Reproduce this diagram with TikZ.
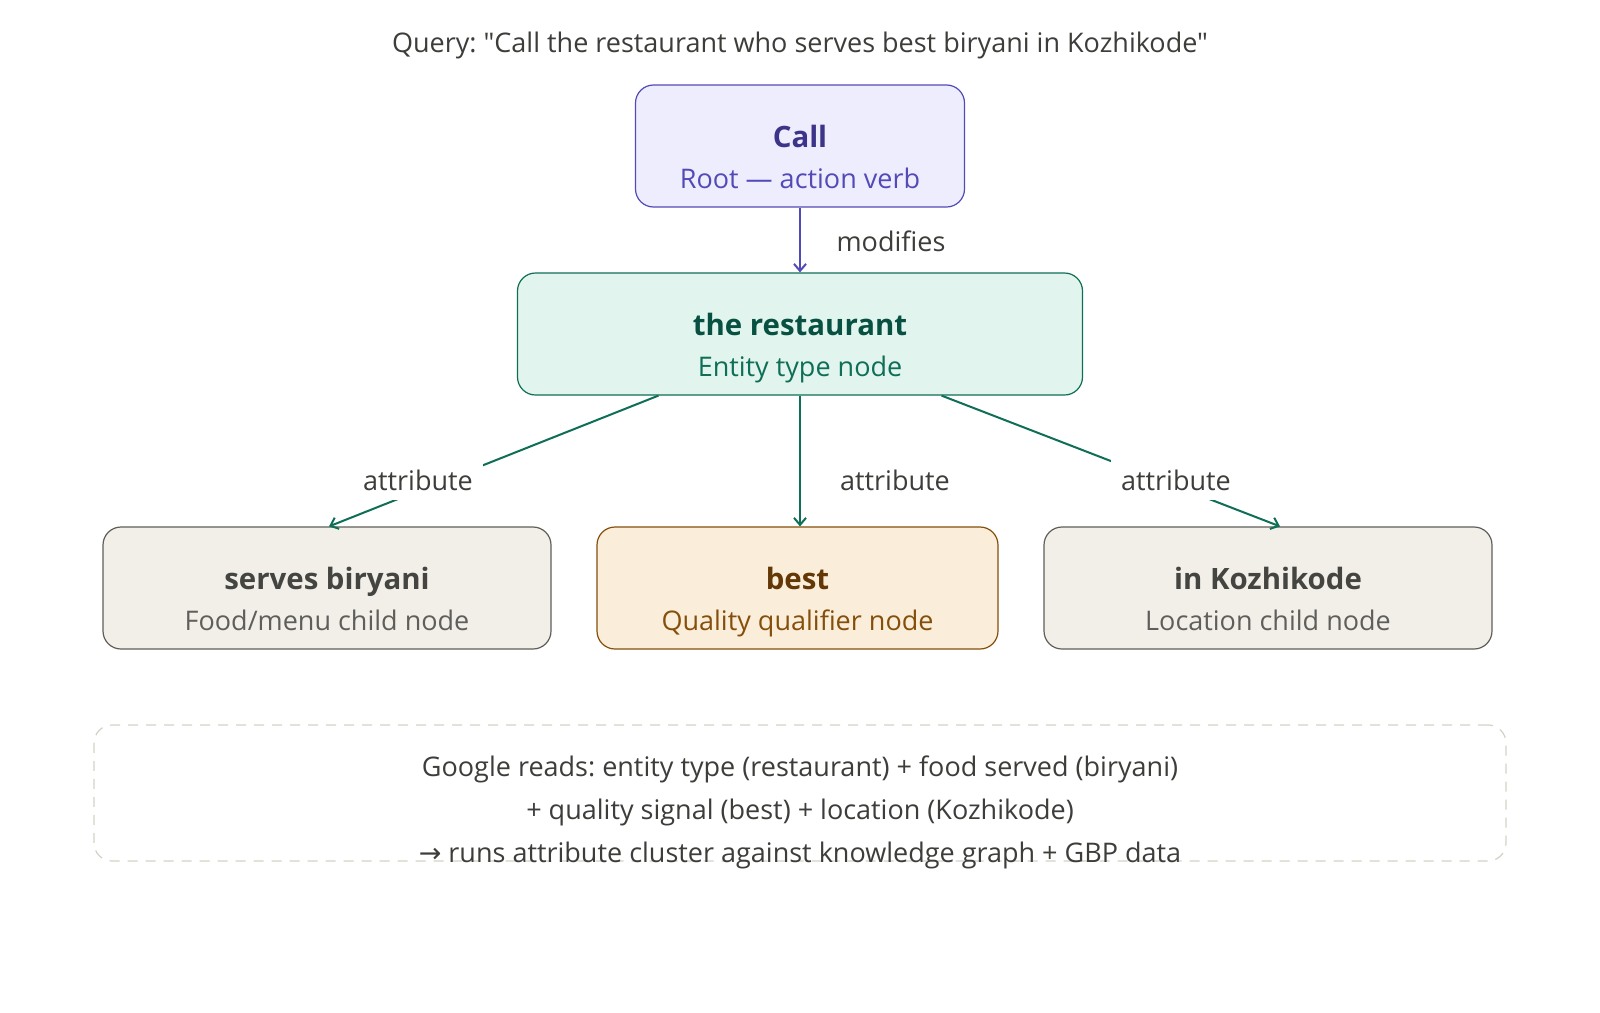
\documentclass[tikz,border=0pt]{standalone}
\usepackage{fontspec}
\setmainfont{Open Sans}[Ligatures=TeXOff]
\newfontfamily\symfont{DejaVu Sans}
\usetikzlibrary{arrows.meta,calc}
\frenchspacing
\definecolor{pStroke}{HTML}{534AB7}
\definecolor{pFill}{HTML}{EEEDFE}
\definecolor{pDark}{HTML}{3C3489}
\definecolor{gStroke}{HTML}{0F6E56}
\definecolor{gFill}{HTML}{E1F5EE}
\definecolor{gDark}{HTML}{085041}
\definecolor{nStroke}{HTML}{5F5E5A}
\definecolor{nFill}{HTML}{F1EFE8}
\definecolor{nDark}{HTML}{444441}
\definecolor{aStroke}{HTML}{854F0B}
\definecolor{aFill}{HTML}{FAEEDA}
\definecolor{aDark}{HTML}{633806}
\definecolor{txt}{HTML}{3D3D3A}
\definecolor{dashc}{HTML}{D3D1C7}
\tikzset{
  box/.style={draw, rounded corners=9pt, line width=0.6pt, minimum height=61pt, inner sep=0pt},
  ttl/.style={anchor=base, font=\fontsize{14.7}{18}\selectfont\bfseries, inner sep=0pt},
  sub/.style={anchor=base, font=\fontsize{13.5}{16}\selectfont, inner sep=0pt},
  plain/.style={anchor=base, font=\fontsize{13.5}{16}\selectfont\frenchspacing, text=txt, inner sep=0pt},
  lbl/.style={font=\fontsize{13.5}{16}\selectfont, text=txt, fill=white, inner sep=5pt},
  conn/.style={line width=1pt, -{Straight Barb[length=3.5pt,width=6pt]}},
}
\begin{document}
\begin{tikzpicture}[x=0.5pt,y=-0.5pt]
\useasboundingbox[fill=white] (0,0) rectangle (1600,1012);

\node[plain] (query) at (800,52) {Query: "Call the restaurant who serves best biryani in Kozhikode"};

% boxes
\node[box, draw=pStroke, fill=pFill, minimum width=164.5pt] (call) at (800,146) {};
\node[box, draw=gStroke, fill=gFill, minimum width=282.5pt] (rest) at (800,334) {};
\node[box, draw=nStroke, fill=nFill, minimum width=224pt] (serves) at (327,588) {};
\node[box, draw=aStroke, fill=aFill, minimum width=200.5pt] (best) at (797.5,588) {};
\node[box, draw=nStroke, fill=nFill, minimum width=224pt] (kozhi) at (1268,588) {};

% texts
\node[ttl, text=pDark] (callT) at (800,147) {Call};
\node[sub, text=pStroke] (callS) at (800,188) {Root — action verb};
\node[ttl, text=gDark] (restT) at (800,335) {the restaurant};
\node[sub, text=gStroke] (restS) at (800,376) {Entity type node};
\node[ttl, text=nDark] (servesT) at (327,589) {serves biryani};
\node[sub, text=nStroke] (servesS) at (327,630) {Food/menu child node};
\node[ttl, text=aDark] (bestT) at (797.5,589) {best};
\node[sub, text=aStroke] (bestS) at (797.5,630) {Quality qualifier node};
\node[ttl, text=nDark] (kozhiT) at (1268,589) {in Kozhikode};
\node[sub, text=nStroke] (kozhiS) at (1268,630) {Location child node};

% connectors
\draw[conn, pStroke] (call.south) -- (rest.north);
\node[plain] (modL) at (891,251) {modifies};

\coordinate (restL) at ($(rest.south west)!0.25!(rest.south east)$);
\coordinate (restR) at ($(rest.south west)!0.75!(rest.south east)$);
\coordinate (kozhiIn) at ($(kozhi.north)+(12,0)$);
\coordinate (servesIn) at ($(serves.north)+(2,0)$);
\draw[conn, gStroke] (restL) -- (servesIn);
\draw[conn, gStroke] (rest.south) -- (rest.south |- best.north);
\draw[conn, gStroke] (restR) -- (kozhiIn);
\node[lbl] (attrL) at (418,480) {attribute};
\node[lbl] (attrM) at (895,480) {attribute};
\node[lbl] (attrR) at (1176,480) {attribute};

% summary
\node[draw=dashc, line width=0.6pt, dash pattern=on 5pt off 4pt, rounded corners=9pt, minimum width=706pt, minimum height=68pt, inner sep=0pt] (summary) at (800,793) {};
\node[plain] (sum1) at (800,776) {Google reads: entity type (restaurant) + food served (biryani)};
\node[plain] (sum2) at (800,819) {+ quality signal (best) + location (Kozhikode)};
\node[plain] (sum3) at (800,862) {{\symfont →} runs attribute cluster against knowledge graph + GBP data};
\end{tikzpicture}
\end{document}
